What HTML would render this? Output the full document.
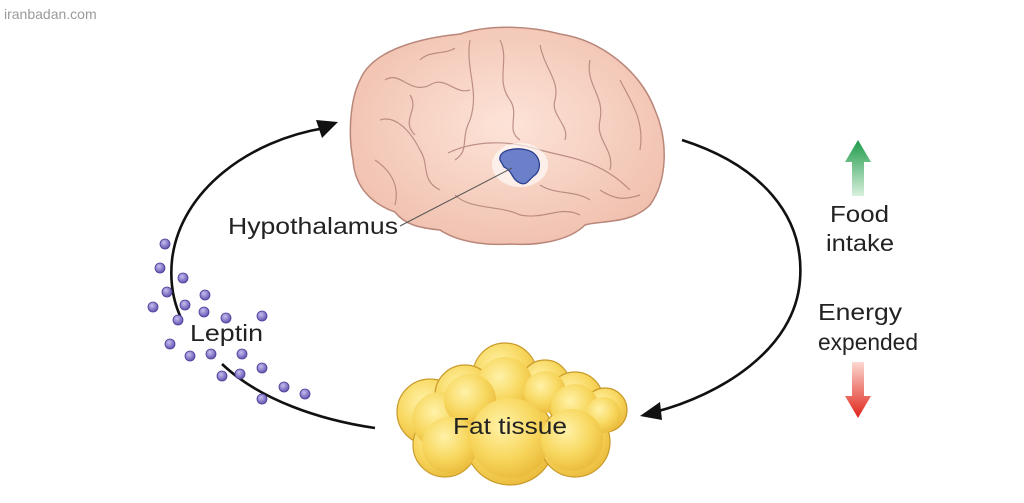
<!DOCTYPE html>
<html><head><meta charset="utf-8"><style>
html,body{margin:0;padding:0;background:#fff;}
svg{display:block;font-family:"Liberation Sans",Arial,sans-serif;}
</style></head><body>
<svg width="1024" height="503" viewBox="0 0 1024 503" xmlns="http://www.w3.org/2000/svg">
<defs>
<radialGradient id="br" cx="0.5" cy="0.45" r="0.6"><stop offset="0" stop-color="#fde4d8"/><stop offset="1" stop-color="#f0bfad"/></radialGradient>
<radialGradient id="fat" cx="0.4" cy="0.35" r="0.7"><stop offset="0" stop-color="#fff2a8"/><stop offset="0.6" stop-color="#f7d65c"/><stop offset="1" stop-color="#e9b93a"/></radialGradient>
<radialGradient id="dot" cx="0.4" cy="0.35" r="0.6"><stop offset="0" stop-color="#c7bdf0"/><stop offset="1" stop-color="#6a5bb5"/></radialGradient>
<linearGradient id="gr" x1="0" y1="0" x2="0" y2="1"><stop offset="0" stop-color="#1e9a4a"/><stop offset="1" stop-color="#d8f0dc"/></linearGradient>
<linearGradient id="rd" x1="0" y1="0" x2="0" y2="1"><stop offset="0" stop-color="#fbd8d0"/><stop offset="1" stop-color="#e0241a"/></linearGradient>
</defs>
<text x="4" y="19" font-size="14" fill="#9a9a9a">iranbadan.com</text>

<!-- brain -->
<path d="M360,80 C372,50 420,38 460,34 C490,24 530,26 560,34 C600,40 640,70 655,110 C668,140 668,180 650,205 C630,225 600,220 585,225 C570,240 540,246 510,244 C480,246 455,240 440,230 C420,228 405,225 395,212 C375,205 355,190 353,160 C348,135 350,100 360,80 Z" fill="url(#br)" stroke="#b9877a" stroke-width="1.5"/>
<g fill="none" stroke="#b3827a" stroke-width="1.2" opacity="0.85">
<path d="M385,80 C400,70 410,95 430,85 C445,75 455,95 470,90"/>
<path d="M470,40 C465,70 480,90 470,120 C460,140 470,150 455,160"/>
<path d="M500,40 C510,60 495,80 510,100 C520,115 505,130 520,140"/>
<path d="M540,45 C545,70 560,80 555,100 C550,115 570,125 565,140"/>
<path d="M590,60 C585,85 605,95 600,120 C595,140 615,150 610,170"/>
<path d="M620,80 C630,100 645,120 640,150"/>
<path d="M448,153 C475,140 510,140 540,150 C570,158 600,160 630,190"/>
<path d="M380,120 C395,115 410,130 420,150 C430,165 420,180 440,190"/>
<path d="M375,160 C390,170 400,185 395,205"/>
<path d="M455,195 C470,210 500,205 520,215 C545,220 560,205 580,215"/>
<path d="M600,190 C615,200 625,200 640,195"/>
<path d="M420,60 C430,50 445,55 455,48"/>
<path d="M540,185 C555,195 575,190 590,200"/>
<path d="M410,95 C420,110 400,120 415,135"/>
</g>
<ellipse cx="520" cy="165" rx="28" ry="22" fill="#fff" opacity="0.6"/>
<path d="M500,160 C498,150 515,147 527,150 C540,153 543,168 535,175 C528,180 527,186 520,183 C512,180 512,170 504,167 Z" fill="#6b80c8" stroke="#2c3f90" stroke-width="1.3"/>
<line x1="400" y1="226" x2="512" y2="168" stroke="#555" stroke-width="1"/>
<text x="228" y="234" font-size="23" fill="#222" textLength="170" lengthAdjust="spacingAndGlyphs">Hypothalamus</text>

<!-- arcs -->
<path d="M375,428 C320,420 260,400 222,364" fill="none" stroke="#111" stroke-width="2.6"/>
<path d="M182,320 C172,300 170,280 172,260 C180,190 250,140 325,128" fill="none" stroke="#111" stroke-width="2.6"/>
<polygon points="338,122 316,120 322,138" fill="#111"/>
<path d="M682,140 C760,165 805,215 800,280 C795,350 720,395 655,412" fill="none" stroke="#111" stroke-width="2.6"/>
<polygon points="640,416 660,402 662,420" fill="#111"/>

<!-- dots -->
<g fill="url(#dot)" stroke="#4b3f96" stroke-width="0.8">
<circle cx="165" cy="244" r="5"/><circle cx="160" cy="268" r="5"/><circle cx="183" cy="278" r="5"/>
<circle cx="167" cy="292" r="5"/><circle cx="205" cy="295" r="5"/><circle cx="153" cy="307" r="5"/>
<circle cx="185" cy="305" r="5"/><circle cx="204" cy="312" r="5"/><circle cx="226" cy="318" r="5"/>
<circle cx="262" cy="316" r="5"/><circle cx="178" cy="320" r="5"/><circle cx="170" cy="344" r="5"/>
<circle cx="190" cy="356" r="5"/><circle cx="211" cy="354" r="5"/><circle cx="242" cy="354" r="5"/>
<circle cx="222" cy="376" r="5"/><circle cx="240" cy="374" r="5"/><circle cx="262" cy="368" r="5"/>
<circle cx="284" cy="387" r="5"/><circle cx="305" cy="394" r="5"/><circle cx="262" cy="399" r="5"/>
</g>
<text x="190" y="341" font-size="23" fill="#222" textLength="73" lengthAdjust="spacingAndGlyphs">Leptin</text>

<!-- fat -->
<g fill="url(#fat)" stroke="#c99a2a" stroke-width="1.2">
<circle cx="430" cy="412" r="33"/><circle cx="505" cy="375" r="32"/><circle cx="465" cy="395" r="30"/>
<circle cx="545" cy="385" r="25"/><circle cx="575" cy="400" r="28"/><circle cx="605" cy="410" r="22"/>
<circle cx="445" cy="445" r="32"/><circle cx="510" cy="440" r="45"/><circle cx="575" cy="442" r="35"/>
</g>
<g fill="url(#fat)">
<circle cx="440" cy="420" r="28"/><circle cx="505" cy="385" r="28"/><circle cx="470" cy="400" r="26"/>
<circle cx="545" cy="392" r="21"/><circle cx="575" cy="408" r="24"/><circle cx="603" cy="415" r="18"/>
<circle cx="450" cy="445" r="28"/><circle cx="510" cy="438" r="40"/><circle cx="572" cy="440" r="31"/>
</g>
<text x="453" y="434" font-size="23" fill="#222" textLength="114" lengthAdjust="spacingAndGlyphs">Fat tissue</text>

<!-- right side -->
<polygon points="858,140 845,162 852,162 852,196 864,196 864,162 871,162" fill="url(#gr)"/>
<text x="830" y="222" font-size="23" fill="#222" textLength="59" lengthAdjust="spacingAndGlyphs">Food</text>
<text x="826" y="251" font-size="23" fill="#222" textLength="68" lengthAdjust="spacingAndGlyphs">intake</text>
<text x="818" y="320" font-size="23" fill="#222" textLength="84" lengthAdjust="spacingAndGlyphs">Energy</text>
<text x="818" y="350" font-size="23" fill="#222" textLength="100" lengthAdjust="spacingAndGlyphs">expended</text>
<polygon points="858,418 845,396 852,396 852,362 864,362 864,396 871,396" fill="url(#rd)"/>
</svg>
</body></html>
